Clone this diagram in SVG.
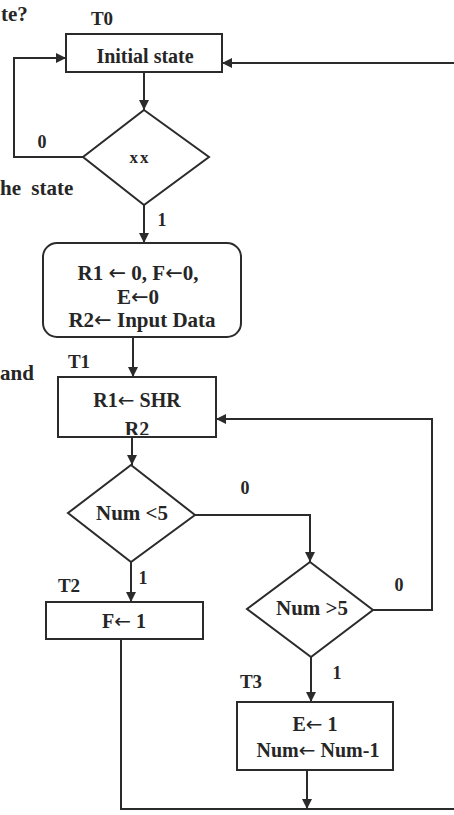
<svg xmlns="http://www.w3.org/2000/svg" width="454" height="815" viewBox="0 0 454 815">
  <style>
    .box { fill: #fff; stroke: #2b2b2b; stroke-width: 2; }
    .wire { fill: none; stroke: #2b2b2b; stroke-width: 2; }
    .t { font-family: "Liberation Serif", "DejaVu Serif", serif; font-weight: bold; fill: #262626; text-anchor: middle; }
    .lbl { font-size: 19px; }
    .edge { font-size: 18px; }
    .arr { font-family: "DejaVu Sans", sans-serif; font-weight: normal; }
    .side { font-family: "Liberation Serif", "DejaVu Serif", serif; font-weight: bold; fill: #262626; font-size: 21px; }
  </style>
  <defs>
    <marker id="arrow" viewBox="0 0 10 10" refX="10" refY="5" markerWidth="11" markerHeight="10" markerUnits="userSpaceOnUse" orient="auto">
      <path d="M0,0 L10,5 L0,10 Z" fill="#2b2b2b"/>
    </marker>
    <clipPath id="t1clip">
      <rect x="58" y="377" width="158" height="58"/>
    </clipPath>
  </defs>
  <rect width="454" height="815" fill="#fff"/>

  <!-- text fragments at the page edge -->
  <text class="side" x="1" y="21">te?</text>
  <text class="side" x="0" y="195" word-spacing="5">he state</text>
  <text class="side" x="0" y="380">and</text>

  <!-- connectors -->
  <g id="connectors">
    <path class="wire" d="M144,72 V110" marker-end="url(#arrow)"/>
    <path class="wire" d="M83,157 H14 V58 H66" marker-end="url(#arrow)"/>
    <path class="wire" d="M454,63 H222" marker-end="url(#arrow)"/>
    <path class="wire" d="M144,205 V243" marker-end="url(#arrow)"/>
    <path class="wire" d="M133,337 V377" marker-end="url(#arrow)"/>
    <path class="wire" d="M132,437 V465" marker-end="url(#arrow)"/>
    <path class="wire" d="M195,515 H310 V562" marker-end="url(#arrow)"/>
    <path class="wire" d="M373,610 H432 V419 H216" marker-end="url(#arrow)"/>
    <path class="wire" d="M131,562 V602" marker-end="url(#arrow)"/>
    <path class="wire" d="M311,657 V702" marker-end="url(#arrow)"/>
    <path class="wire" d="M121,639 V809 H454"/>
    <path class="wire" d="M307,770 V809" marker-end="url(#arrow)"/>
    <text class="t edge" x="42" y="148">0</text>
    <text class="t edge" x="162" y="226">1</text>
    <text class="t edge" x="245" y="494">0</text>
    <text class="t edge" x="399" y="591">0</text>
    <text class="t edge" x="143" y="584">1</text>
    <text class="t edge" x="337" y="679">1</text>
  </g>

  <g id="init">
    <text class="t lbl" x="102" y="25">T0</text>
    <rect class="box" x="66" y="34" width="156" height="38"/>
    <text class="t" x="145" y="63" font-size="20">Initial state</text>
  </g>

  <g id="check-xx">
    <polygon class="box" points="144,110 209,157 144,205 83,157"/>
    <text class="t" x="140" y="163" font-size="17" letter-spacing="2">xx</text>
  </g>

  <g id="clear">
    <rect class="box" x="43" y="243" width="198" height="94" rx="14"/>
    <text class="t" x="138" y="280" font-size="21">R1 <tspan class="arr">←</tspan> 0, F<tspan class="arr">←</tspan>0,</text>
    <text class="t" x="138" y="304" font-size="21">E<tspan class="arr">←</tspan>0</text>
    <text class="t" x="142" y="327" font-size="21">R2<tspan class="arr">←</tspan> Input Data</text>
  </g>

  <g id="shift">
    <text class="t lbl" x="79" y="368">T1</text>
    <rect class="box" x="58" y="377" width="158" height="60"/>
    <text class="t" x="137" y="407" font-size="20">R1<tspan class="arr">←</tspan> SHR</text>
    <text class="t" x="137" y="436" font-size="20" clip-path="url(#t1clip)">R2</text>
  </g>

  <g id="less-than">
    <polygon class="box" points="131,465 195,515 131,562 68,513"/>
    <text class="t" x="132" y="520" font-size="21">Num &lt;5</text>
  </g>

  <g id="greater-than">
    <polygon class="box" points="310,562 373,610 311,657 247,609"/>
    <text class="t" x="312" y="615" font-size="21">Num &gt;5</text>
  </g>

  <g id="set-f">
    <text class="t lbl" x="69" y="592">T2</text>
    <rect class="box" x="46" y="602" width="157" height="37"/>
    <text class="t" x="124" y="628" font-size="20">F<tspan class="arr">←</tspan> 1</text>
  </g>

  <g id="set-e">
    <text class="t lbl" x="251" y="688">T3</text>
    <rect class="box" x="237" y="702" width="156" height="68"/>
    <text class="t" x="315" y="731" font-size="20">E<tspan class="arr">←</tspan> 1</text>
    <text class="t" x="318" y="757" font-size="20">Num<tspan class="arr">←</tspan> Num-1</text>
  </g>
</svg>
